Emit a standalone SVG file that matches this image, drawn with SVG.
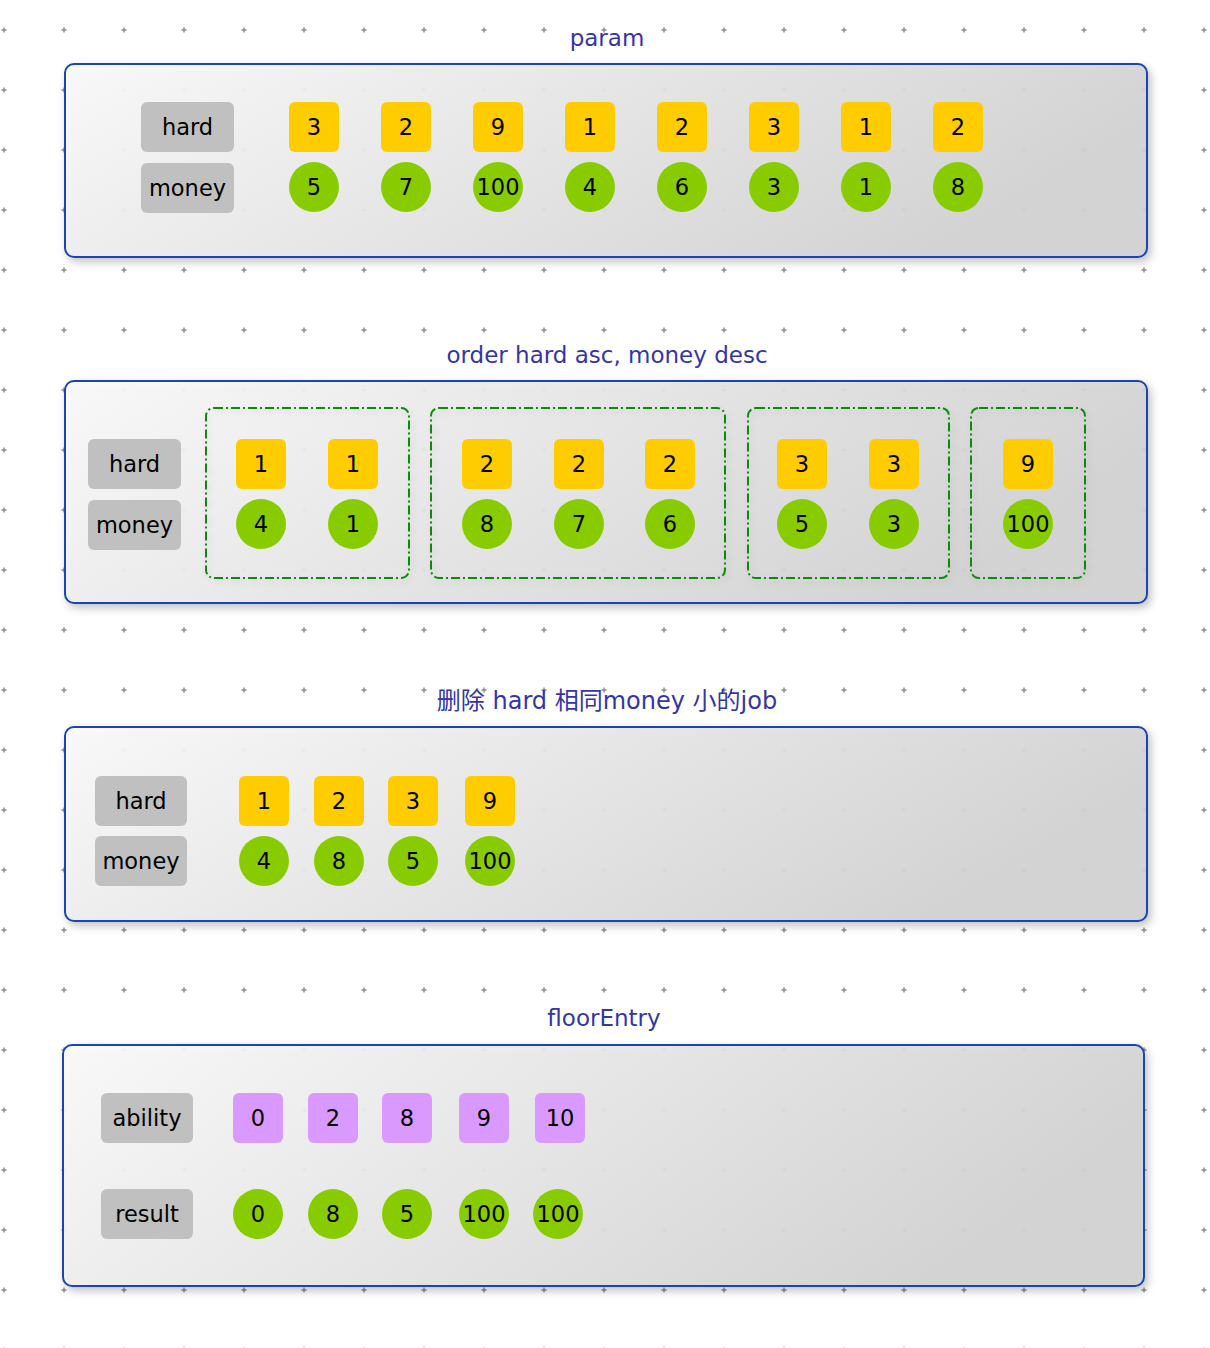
<svg xmlns="http://www.w3.org/2000/svg" width="1210" height="1348" viewBox="0 0 1210 1348">
<defs>
<pattern id="grid" patternUnits="userSpaceOnUse" x="4" y="30" width="60" height="60">
<path d="M-2.5 0H2.5M0 -2.5V2.5M57.5 0H62.5M60 -2.5V2.5M-2.5 60H2.5M0 57.5V62.5M57.5 60H62.5M60 57.5V62.5" stroke="#8a8a8a" stroke-width="1.4"/>
</pattern>
<linearGradient id="cg" x1="0" y1="0" x2="1" y2="0.3">
<stop offset="0" stop-color="#fafafa"/>
<stop offset="1" stop-color="#d2d2d2"/>
</linearGradient>
<filter id="sh" x="-5%" y="-10%" width="110%" height="125%">
<feDropShadow dx="3" dy="4" stdDeviation="4" flood-color="#000" flood-opacity="0.25"/>
</filter>
<filter id="gsh" x="-10%" y="-10%" width="120%" height="120%">
<feDropShadow dx="2" dy="3" stdDeviation="3" flood-color="#000" flood-opacity="0.12"/>
</filter>
</defs>
<style>
.cont{fill:url(#cg);fill-opacity:0.93;stroke:#1a45b0;stroke-width:2;filter:url(#sh)}
.grp{fill:none;stroke:#0a8a0a;stroke-width:2;stroke-dasharray:9 3 2 3;filter:url(#gsh)}
.lbl{fill:#c0c0c0}
.sq{fill:#ffcc00}
.pu{fill:#da99ff}
.ci{fill:#88cc00}
.t{font-family:"DejaVu Sans",sans-serif;font-size:22.5px;fill:#000;text-anchor:middle;dominant-baseline:central}
.title{font-family:"DejaVu Sans","Noto Sans CJK SC",sans-serif;font-size:23px;fill:#3535a5;text-anchor:middle}
</style>
<rect width="1210" height="1348" fill="#fff"/>
<rect width="1210" height="1348" fill="url(#grid)"/>

<g id="section1">
<rect class="cont" x="65" y="64" width="1082" height="193" rx="9"/>
<text class="title" x="607" y="46">param</text>
<g id="s1-hard"><rect class="lbl" x="141" y="102" width="93" height="50" rx="6"/><text class="t" x="187.5" y="127">hard</text></g>
<g id="s1-money"><rect class="lbl" x="141" y="163" width="93" height="50" rx="6"/><text class="t" x="187.5" y="188">money</text></g>
<g id="s1-h1"><rect class="sq" x="289" y="102" width="50" height="50" rx="6"/><text class="t" x="314" y="127">3</text></g>
<g id="s1-h2"><rect class="sq" x="381" y="102" width="50" height="50" rx="6"/><text class="t" x="406" y="127">2</text></g>
<g id="s1-h3"><rect class="sq" x="473" y="102" width="50" height="50" rx="6"/><text class="t" x="498" y="127">9</text></g>
<g id="s1-h4"><rect class="sq" x="565" y="102" width="50" height="50" rx="6"/><text class="t" x="590" y="127">1</text></g>
<g id="s1-h5"><rect class="sq" x="657" y="102" width="50" height="50" rx="6"/><text class="t" x="682" y="127">2</text></g>
<g id="s1-h6"><rect class="sq" x="749" y="102" width="50" height="50" rx="6"/><text class="t" x="774" y="127">3</text></g>
<g id="s1-h7"><rect class="sq" x="841" y="102" width="50" height="50" rx="6"/><text class="t" x="866" y="127">1</text></g>
<g id="s1-h8"><rect class="sq" x="933" y="102" width="50" height="50" rx="6"/><text class="t" x="958" y="127">2</text></g>
<g id="s1-m1"><circle class="ci" cx="314" cy="187" r="25"/><text class="t" x="314" y="187">5</text></g>
<g id="s1-m2"><circle class="ci" cx="406" cy="187" r="25"/><text class="t" x="406" y="187">7</text></g>
<g id="s1-m3"><circle class="ci" cx="498" cy="187" r="25"/><text class="t" x="498" y="187">100</text></g>
<g id="s1-m4"><circle class="ci" cx="590" cy="187" r="25"/><text class="t" x="590" y="187">4</text></g>
<g id="s1-m5"><circle class="ci" cx="682" cy="187" r="25"/><text class="t" x="682" y="187">6</text></g>
<g id="s1-m6"><circle class="ci" cx="774" cy="187" r="25"/><text class="t" x="774" y="187">3</text></g>
<g id="s1-m7"><circle class="ci" cx="866" cy="187" r="25"/><text class="t" x="866" y="187">1</text></g>
<g id="s1-m8"><circle class="ci" cx="958" cy="187" r="25"/><text class="t" x="958" y="187">8</text></g>
</g>

<g id="section2">
<rect class="cont" x="65" y="381" width="1082" height="222" rx="9"/>
<text class="title" x="607" y="363">order hard asc, money desc</text>
<rect class="grp" x="206" y="408" width="203" height="170" rx="8"/>
<rect class="grp" x="431" y="408" width="294" height="170" rx="8"/>
<rect class="grp" x="748" y="408" width="201" height="170" rx="8"/>
<rect class="grp" x="971" y="408" width="114" height="170" rx="8"/>
<g id="s2-hard"><rect class="lbl" x="88" y="439" width="93" height="50" rx="6"/><text class="t" x="134.5" y="464">hard</text></g>
<g id="s2-money"><rect class="lbl" x="88" y="500" width="93" height="50" rx="6"/><text class="t" x="134.5" y="525">money</text></g>
<g id="s2-h1"><rect class="sq" x="236" y="439" width="50" height="50" rx="6"/><text class="t" x="261" y="464">1</text></g>
<g id="s2-h2"><rect class="sq" x="328" y="439" width="50" height="50" rx="6"/><text class="t" x="353" y="464">1</text></g>
<g id="s2-h3"><rect class="sq" x="462" y="439" width="50" height="50" rx="6"/><text class="t" x="487" y="464">2</text></g>
<g id="s2-h4"><rect class="sq" x="554" y="439" width="50" height="50" rx="6"/><text class="t" x="579" y="464">2</text></g>
<g id="s2-h5"><rect class="sq" x="645" y="439" width="50" height="50" rx="6"/><text class="t" x="670" y="464">2</text></g>
<g id="s2-h6"><rect class="sq" x="777" y="439" width="50" height="50" rx="6"/><text class="t" x="802" y="464">3</text></g>
<g id="s2-h7"><rect class="sq" x="869" y="439" width="50" height="50" rx="6"/><text class="t" x="894" y="464">3</text></g>
<g id="s2-h8"><rect class="sq" x="1003" y="439" width="50" height="50" rx="6"/><text class="t" x="1028" y="464">9</text></g>
<g id="s2-m1"><circle class="ci" cx="261" cy="524" r="25"/><text class="t" x="261" y="524">4</text></g>
<g id="s2-m2"><circle class="ci" cx="353" cy="524" r="25"/><text class="t" x="353" y="524">1</text></g>
<g id="s2-m3"><circle class="ci" cx="487" cy="524" r="25"/><text class="t" x="487" y="524">8</text></g>
<g id="s2-m4"><circle class="ci" cx="579" cy="524" r="25"/><text class="t" x="579" y="524">7</text></g>
<g id="s2-m5"><circle class="ci" cx="670" cy="524" r="25"/><text class="t" x="670" y="524">6</text></g>
<g id="s2-m6"><circle class="ci" cx="802" cy="524" r="25"/><text class="t" x="802" y="524">5</text></g>
<g id="s2-m7"><circle class="ci" cx="894" cy="524" r="25"/><text class="t" x="894" y="524">3</text></g>
<g id="s2-m8"><circle class="ci" cx="1028" cy="524" r="25"/><text class="t" x="1028" y="524">100</text></g>
</g>

<g id="section3">
<rect class="cont" x="65" y="727" width="1082" height="194" rx="9"/>
<text class="title" x="607" y="709" style="font-size:24px">删除 hard 相同money 小的job</text>
<g id="s3-hard"><rect class="lbl" x="95" y="776" width="92" height="50" rx="6"/><text class="t" x="141" y="801">hard</text></g>
<g id="s3-money"><rect class="lbl" x="95" y="836" width="92" height="50" rx="6"/><text class="t" x="141" y="861">money</text></g>
<g id="s3-h1"><rect class="sq" x="239" y="776" width="50" height="50" rx="6"/><text class="t" x="264" y="801">1</text></g>
<g id="s3-h2"><rect class="sq" x="314" y="776" width="50" height="50" rx="6"/><text class="t" x="339" y="801">2</text></g>
<g id="s3-h3"><rect class="sq" x="388" y="776" width="50" height="50" rx="6"/><text class="t" x="413" y="801">3</text></g>
<g id="s3-h4"><rect class="sq" x="465" y="776" width="50" height="50" rx="6"/><text class="t" x="490" y="801">9</text></g>
<g id="s3-m1"><circle class="ci" cx="264" cy="861" r="25"/><text class="t" x="264" y="861">4</text></g>
<g id="s3-m2"><circle class="ci" cx="339" cy="861" r="25"/><text class="t" x="339" y="861">8</text></g>
<g id="s3-m3"><circle class="ci" cx="413" cy="861" r="25"/><text class="t" x="413" y="861">5</text></g>
<g id="s3-m4"><circle class="ci" cx="490" cy="861" r="25"/><text class="t" x="490" y="861">100</text></g>
</g>

<g id="section4">
<rect class="cont" x="63" y="1045" width="1081" height="241" rx="9"/>
<text class="title" x="604" y="1026">floorEntry</text>
<g id="s4-ability"><rect class="lbl" x="101" y="1093" width="92" height="50" rx="6"/><text class="t" x="147" y="1118">ability</text></g>
<g id="s4-result"><rect class="lbl" x="101" y="1189" width="92" height="50" rx="6"/><text class="t" x="147" y="1214">result</text></g>
<g id="s4-a1"><rect class="pu" x="233" y="1093" width="50" height="50" rx="6"/><text class="t" x="258" y="1118">0</text></g>
<g id="s4-a2"><rect class="pu" x="308" y="1093" width="50" height="50" rx="6"/><text class="t" x="333" y="1118">2</text></g>
<g id="s4-a3"><rect class="pu" x="382" y="1093" width="50" height="50" rx="6"/><text class="t" x="407" y="1118">8</text></g>
<g id="s4-a4"><rect class="pu" x="459" y="1093" width="50" height="50" rx="6"/><text class="t" x="484" y="1118">9</text></g>
<g id="s4-a5"><rect class="pu" x="535" y="1093" width="50" height="50" rx="6"/><text class="t" x="560" y="1118">10</text></g>
<g id="s4-r1"><circle class="ci" cx="258" cy="1214" r="25"/><text class="t" x="258" y="1214">0</text></g>
<g id="s4-r2"><circle class="ci" cx="333" cy="1214" r="25"/><text class="t" x="333" y="1214">8</text></g>
<g id="s4-r3"><circle class="ci" cx="407" cy="1214" r="25"/><text class="t" x="407" y="1214">5</text></g>
<g id="s4-r4"><circle class="ci" cx="484" cy="1214" r="25"/><text class="t" x="484" y="1214">100</text></g>
<g id="s4-r5"><circle class="ci" cx="558" cy="1214" r="25"/><text class="t" x="558" y="1214">100</text></g>
</g>
<g id="connectors"/>
</svg>
